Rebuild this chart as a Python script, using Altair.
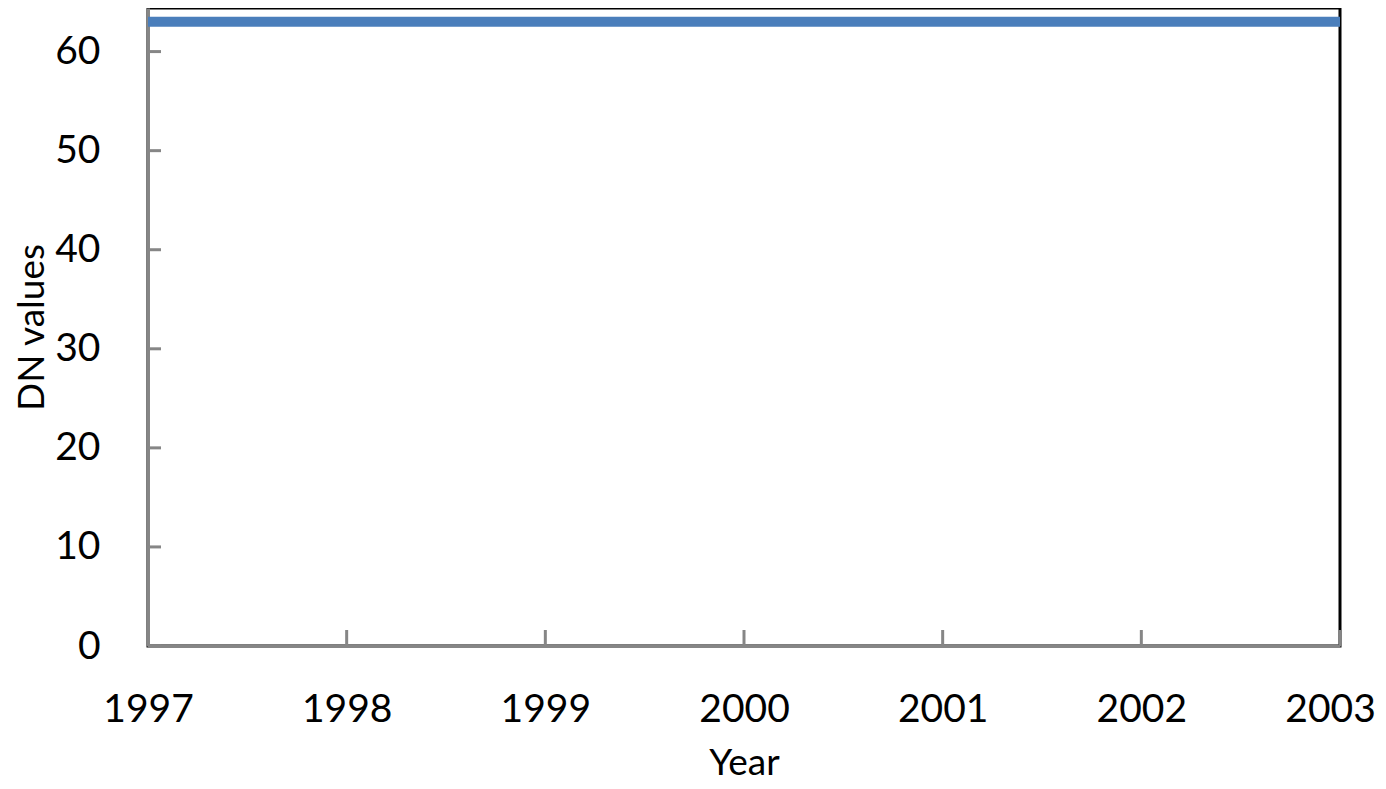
import altair as alt
import pandas as pd

years = [1997, 1998, 1999, 2000, 2001, 2002, 2003]
dn_values = [63, 63, 63, 63, 63, 63, 63]
y_ticks = [0, 10, 20, 30, 40, 50, 60]

W, H = 1192, 638
FONT = "Lato"
GRAY = "#868686"

line_df = pd.DataFrame({"Year": years, "DN": dn_values})
xt_df = pd.DataFrame({"Year": years})
yt_df = pd.DataFrame({"DN": y_ticks})

xscale = alt.Scale(domain=[1997, 2003], nice=False, zero=False)
yscale = alt.Scale(domain=[0, 64.4], nice=False)

line = alt.Chart(line_df).mark_line(color="#4a7ebb", strokeWidth=10, strokeCap="butt").encode(
    x=alt.X("Year:Q", scale=xscale,
            axis=alt.Axis(values=years, format="d", title="Year", tickSize=0,
                          labelPadding=44, labelFlush=False, labelOverlap=False,
                          labelOffset={"condition": {"test": "datum.value == 2003", "value": -10},
                                       "value": 0},
                          titleY=128, titleBaseline="alphabetic",
                          titleFontWeight="normal")),
    y=alt.Y("DN:Q", scale=yscale,
            axis=alt.Axis(values=y_ticks, title="DN values", tickSize=0,
                          labelPadding=48, labelFlush=False, titleX=-116, titleY=H / 2,
                          titleBaseline="middle", titleFontWeight="normal")),
)

xticks = alt.Chart(xt_df).mark_rule(color=GRAY, strokeWidth=3).encode(
    x=alt.X("Year:Q", scale=xscale),
    y=alt.value(H),
    y2=alt.value(H - 16),
)

yticks = alt.Chart(yt_df).mark_rule(color=GRAY, strokeWidth=3).encode(
    y=alt.Y("DN:Q", scale=yscale),
    x=alt.value(0),
    x2=alt.value(13),
)

chart = alt.layer(line, xticks, yticks).properties(
    width=W, height=H,
    autosize=alt.AutoSizeParams(type="none"),
    padding={"left": 140, "top": 0, "right": 38, "bottom": 135},
).configure_view(
    stroke="black", strokeWidth=3
).configure_axis(
    domainColor=GRAY, domainWidth=3, grid=False,
    labelFont=FONT, labelFontSize=39, labelColor="black",
    titleFont=FONT, titleFontSize=37, titleColor="black",
)

chart.save("out.html", embed_options={"renderer": "svg", "actions": False})
